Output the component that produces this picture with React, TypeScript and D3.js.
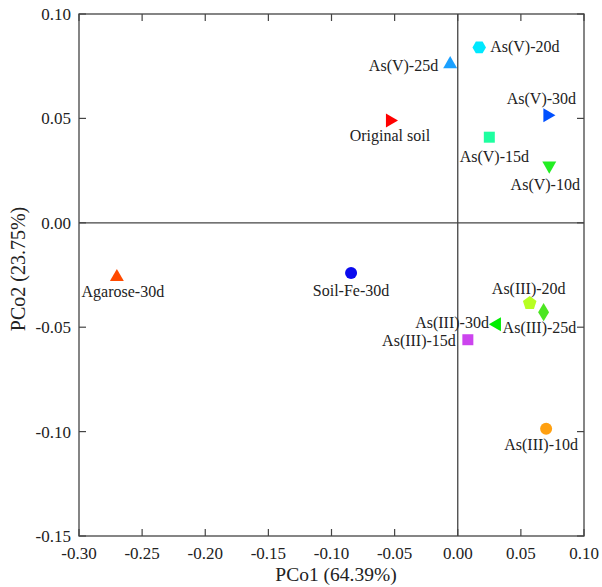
import React from "react";
import * as d3 from "d3";

const names = [
  "Original soil", "As(V)-25d", "As(V)-20d", "As(V)-30d", "As(V)-15d", "As(V)-10d",
  "Agarose-30d", "Soil-Fe-30d", "As(III)-20d", "As(III)-25d", "As(III)-30d", "As(III)-15d", "As(III)-10d",
];
const pco1 = [-0.0537, -0.006, 0.017, 0.071, 0.025, 0.0725, -0.270, -0.0845, 0.057, 0.068, 0.031, 0.008, 0.070];
const pco2 = [0.049, 0.076, 0.084, 0.0515, 0.041, 0.0274, -0.026, -0.024, -0.0385, -0.0428, -0.0486, -0.056, -0.0986];
const shapes = [
  "triRight", "triUp", "hexagon", "triRight", "square", "triDown",
  "triUp", "circle", "pentagon", "diamond", "triLeft", "square", "circle",
];
const colors = [
  "#ff0000", "#1aa0ff", "#00e8ff", "#0050ff", "#1effa0", "#22ee22",
  "#ff4a00", "#0a0aee", "#b8ff22", "#4ce622", "#00ee00", "#cc44ee", "#ffa010",
];
const xTicks = [-0.3, -0.25, -0.2, -0.15, -0.1, -0.05, 0, 0.05, 0.1];
const yTicks = [0.1, 0.05, 0, -0.05, -0.1, -0.15];

// label placement (anchor, dx, dy) relative to marker
const labelLayout: [string, number, number][] = [
  ["middle", 0, 21], ["end", -12, 7], ["start", 11, 5], ["middle", -6, -11], ["middle", 5, 25], ["middle", -4, 24],
  ["middle", 6, 20], ["middle", 0, 23], ["middle", -1, -9], ["start", -41, 21], ["end", -8, 4], ["end", -12, 6], ["middle", -5, 21],
];

const fmt = (t: number) => d3.format(".2f")(t).replace("\u2212", "-");

function shapePath(kind: string, s: number): string {
  const poly = (n: number, r: number, rot: number) => {
    const pts: string[] = [];
    for (let i = 0; i < n; i++) {
      const a = rot + (i * 2 * Math.PI) / n;
      pts.push(`${(r * Math.cos(a)).toFixed(2)},${(r * Math.sin(a)).toFixed(2)}`);
    }
    return "M" + pts.join("L") + "Z";
  };
  switch (kind) {
    case "triUp": return poly(3, s * 0.62, -Math.PI / 2);
    case "triDown": return poly(3, s * 0.62, Math.PI / 2);
    case "triRight": return poly(3, s * 0.62, 0);
    case "triLeft": return poly(3, s * 0.62, Math.PI);
    case "hexagon": return poly(6, s * 0.52, 0);
    case "pentagon": return poly(5, s * 0.55, -Math.PI / 2);
    case "diamond": return `M0,${-s * 0.7}L${s * 0.42},0L0,${s * 0.7}L${-s * 0.42},0Z`;
    case "square": return `M${-s / 2},${-s / 2}h${s}v${s}h${-s}Z`;
    default: return d3.symbol(d3.symbolCircle, Math.PI * (s / 2) * (s / 2))() || "";
  }
}

export default function App() {
  const W = 602, H = 587;
  const x = d3.scaleLinear().domain([-0.3, 0.1]).range([79, 584]);
  const y = d3.scaleLinear().domain([-0.15, 0.1]).range([536, 14]);
  const [x0, x1] = x.range();
  const [yb, yt] = y.range();
  const axisColor = "#444";
  const tl = 7;
  const font = "'Liberation Serif', 'Times New Roman', serif";
  return (
    <svg width={W} height={H} style={{ position: "absolute", left: 0, top: 0, background: "#fff" }} fontFamily={font}>
      <rect x={x0} y={yt} width={x1 - x0} height={yb - yt} fill="none" stroke={axisColor} strokeWidth={1.3} />
      <line x1={x(0)} x2={x(0)} y1={yt} y2={yb} stroke={axisColor} strokeWidth={1.3} />
      <line x1={x0} x2={x1} y1={y(0)} y2={y(0)} stroke={axisColor} strokeWidth={1.3} />
      {xTicks.map((t, i) => (
        <g key={"xt" + i}>
          <line x1={x(t)} x2={x(t)} y1={yb} y2={yb - tl} stroke={axisColor} strokeWidth={1.2} />
          <line x1={x(t)} x2={x(t)} y1={yt} y2={yt + tl} stroke={axisColor} strokeWidth={1.2} />
          <text x={x(t)} y={yb + 23} textAnchor="middle" fontSize={17} fill="#222">{fmt(t)}</text>
        </g>
      ))}
      {yTicks.map((t, i) => (
        <g key={"yt" + i}>
          <line x1={x0} x2={x0 + tl} y1={y(t)} y2={y(t)} stroke={axisColor} strokeWidth={1.2} />
          <line x1={x1} x2={x1 - tl} y1={y(t)} y2={y(t)} stroke={axisColor} strokeWidth={1.2} />
          <text x={x0 - 8} y={y(t) + 6} textAnchor="end" fontSize={17} fill="#222">{fmt(t)}</text>
        </g>
      ))}
      <text x={336} y={581} textAnchor="middle" fontSize={19.5} fill="#222">PCo1 (64.39%)</text>
      <text transform={`translate(25,${(yt + yb) / 2 - 6}) rotate(-90)`} textAnchor="middle" fontSize={20} fill="#222">PCo2 (23.75%)</text>
      {names.map((n, i) => {
        const px = x(pco1[i]);
        const py = y(pco2[i]);
        const [anchor, dx, dy] = labelLayout[i];
        const size = shapes[i] === "circle" ? 12 : shapes[i] === "square" ? 11 : 13;
        return (
          <g key={n}>
            <path d={shapePath(shapes[i], size)} transform={`translate(${px},${py})`} fill={colors[i]} />
            <text x={px + dx} y={py + dy} textAnchor={anchor as any} fontSize={16} fill="#222">{n}</text>
          </g>
        );
      })}
    </svg>
  );
}
